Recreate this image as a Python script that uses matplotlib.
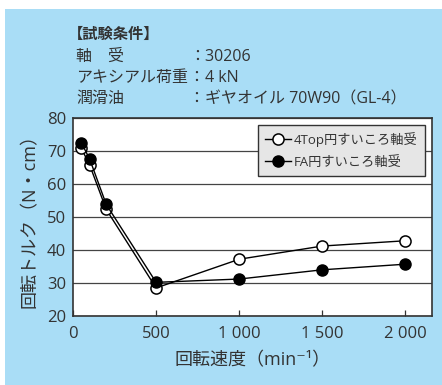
import matplotlib
matplotlib.use("Agg")
import matplotlib.pyplot as plt

plt.rcParams['font.family'] = ['Open Sans', 'Noto Sans CJK JP', 'DejaVu Sans']

TXT = '#333333'
BG = '#a9ddf6'

speed = [50, 100, 200, 500, 1000, 1500, 2000]
torque_4top = [70.8, 65.8, 52.3, 28.5, 37.2, 41.2, 42.8]
torque_fa = [72.5, 67.6, 53.8, 30.2, 31.2, 34.0, 35.7]

xticks = [0, 500, 1000, 1500, 2000]
xtick_labels = ['0', '500', '1 000', '1 500', '2 000']
yticks = [20, 30, 40, 50, 60, 70, 80]

cond_labels = ['軸\u3000受', 'アキシアル荷重', '潤滑油']
cond_values = ['：30206', '：4 kN', '：ギヤオイル 70W90（GL-4）']

W, H = 442, 385
fig = plt.figure(figsize=(W / 100, H / 100), dpi=100)
fig.patch.set_facecolor('white')

# blue panel behind everything
bg = fig.add_axes([5 / W, 0, 1 - 5 / W, (H - 9) / H], zorder=0)
bg.set_facecolor(BG)
bg.set_xticks([])
bg.set_yticks([])
for s in bg.spines.values():
    s.set_visible(False)

ax = fig.add_axes([73 / W, (H - 316) / H, (432 - 73) / W, (316 - 118) / H], zorder=1)
ax.set_facecolor('white')

ax.plot(speed, torque_4top, color='black', lw=1.0, marker='o', ms=8,
        mfc='white', mec='black', mew=1.1, label='4Top円すいころ軸受', zorder=3)
ax.plot(speed, torque_fa, color='black', lw=1.0, marker='o', ms=8,
        mfc='black', mec='black', label='FA円すいころ軸受', zorder=4)

ax.set_xlim(0, 2160)
ax.set_ylim(20, 80)
ax.set_xticks(xticks)
ax.set_xticklabels(xtick_labels)
ax.set_yticks(yticks)
ax.yaxis.grid(True, color='#444444', lw=0.9)
ax.set_axisbelow(True)
ax.tick_params(axis='x', direction='in', length=4, width=0.9, color='#333333',
               labelsize=12, labelcolor=TXT, pad=7)
ax.tick_params(axis='y', length=0, labelsize=12, labelcolor=TXT, pad=5)
for s in ax.spines.values():
    s.set_color('#333333')
    s.set_linewidth(1.2)

ax.set_xlabel('回転速度（min⁻¹）', fontsize=13, color=TXT, labelpad=7)
ax.set_ylabel('回転トルク（N・cm）', fontsize=13, color=TXT, labelpad=6)

leg = ax.legend(loc='upper right', bbox_to_anchor=(0.98, 0.965), fontsize=9.5,
                frameon=True, fancybox=False, framealpha=1, handlelength=2.0,
                borderpad=0.55, labelspacing=0.65, handletextpad=0.2,
                borderaxespad=0)
leg.get_frame().set_facecolor('#e6e6e6')
leg.get_frame().set_edgecolor('#333333')
leg.get_frame().set_linewidth(1.0)
for t in leg.get_texts():
    t.set_color(TXT)

# test conditions block
fig.text(68 / W, 1 - 35 / H, '【試験条件】', fontsize=11, fontweight='bold',
         color=TXT, va='center', ha='left', zorder=2)
for i, (lab, val) in enumerate(zip(cond_labels, cond_values)):
    y = 1 - (57 + 21 * i) / H
    fig.text(76 / W, y, lab, fontsize=11.5, color=TXT, va='center', ha='left', zorder=2)
    fig.text(189 / W, y, val, fontsize=11.5, color=TXT, va='center', ha='left', zorder=2)

fig.savefig('out.png', dpi=100)
